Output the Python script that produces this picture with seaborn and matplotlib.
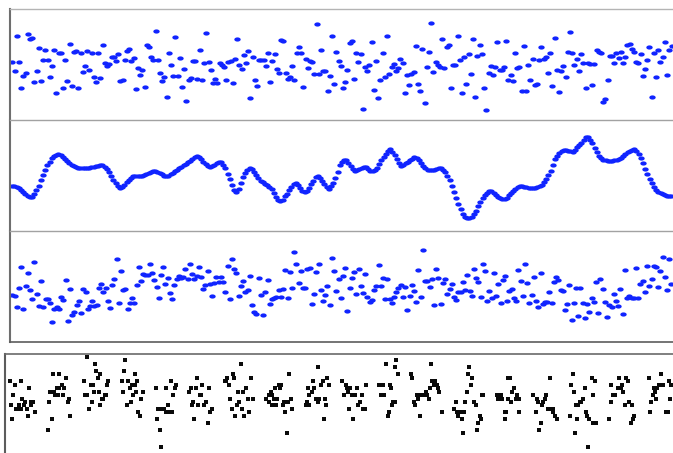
import numpy as np
import pandas as pd
import matplotlib
matplotlib.use("Agg")
import matplotlib.pyplot as plt
import seaborn as sns

# Upper scatter series (one reading per sample index)
upper_values = [
    2, -7, 28, 2, -24, -12, -9, 30, 25, 26,
    -18, -7, 16, -17, 4, 14, 4, -13, -2, 14,
    -29, 11, 11, -24, 4, -17, 20, -22, 12, 13,
    -24, 11, -8, -2, 13, -6, 11, -13, -18, 11,
    -14, 19, 1, -2, 0, 7, 7, 3, 10, -17,
    -16, 4, 13, 15, 3, 6, -25, -4, -11, -6,
    -23, 19, 17, 7, 4, 33, 4, -9, -17, -13,
    -33, 11, -1, -12, 27, -12, 6, -23, -5, -37,
    -16, -14, 3, 3, -15, 14, -16, 1, 31, 2,
    -6, -19, -15, -19, 1, -1, -3, -16, 2, 3,
    -19, 5, 25, -1, -5, 9, 1, 13, -34, 7,
    -16, -22, 4, 4, 4, -2, 11, -18, 3, 10,
    -5, -9, 24, 23, -9, -15, -13, -2, -16, 11,
    17, 11, -23, 5, -4, 3, 2, -10, 40, -10,
    14, -7, -7, -27, -12, 28, -20, 12, 3, -2,
    -24, -18, -6, 21, 23, -15, 11, 2, 10, -45,
    -3, -7, -1, 22, -26, 3, -34, -16, 11, -13,
    28, -10, -3, 0, -7, -4, 5, 1, -29, -11,
    -21, -10, -8, 18, -20, -27, 15, -39, -3, 12,
    41, -8, 2, -1, -3, 25, -4, 17,
    19, -24, -1, -1, 28, 4, -29, 7, -20, 10,
    -10, 25, -33, 8, 19, 10, -24, -46, -9, -2,
    -11, -3, 22, -6, -6, -3, 23, -16, -11, -17,
    11, -4, -3, -27, 18, -27, -1, -16, 5, -21,
    -20, 4, 17, 5, 7, -9, 11, -22, 26, -6,
    -28, -7, -2, -13, 12, 32, 11, -1, 5, -7,
    10, 1, -24, 1, 0, -21, 0, 14, 12, 11,
    -38, -35, -16, 8, 8, 1, 11, 6, 12, 1,
    7, 19, 20, 15, 12, 2, 1, 10, -12, -5,
    4, 17, -33, 11, -13, 14, 2, 7, 22, -11,
    14, 18,
]

# Smooth series
smooth_values = [
    -10.5, -10.5, -11, -12.5, -14.5, -16.5, -18.5, -20, -21, -21,
    -18.5, -14.5, -10, -4.5, 1, 6, 10.5, 14, 17.3, 19.5,
    20.8, 21.2, 20.5, 18.8, 17, 14.8, 12.5, 10.5, 9.3, 8.3,
    7.8, 7.6, 7.6, 7.7, 7.8, 8, 8.3, 8.6, 9.2, 9.8,
    10.3, 10.2, 8.8, 6.8, 3.5, -0.5, -4, -7.5, -10, -12,
    -11.5, -9, -6.2, -4, -2, -0.5, -0.3, -0.5, -0.5, 0,
    0.7, 1.2, 2.3, 3.5, 4.5, 4.2, 3.2, 2.3, 1.2, 0,
    -0.8, 0, 1.5, 3, 4.5, 6, 7.5, 8.8, 10.3, 11.8,
    13.3, 14.8, 16.5, 18.3, 19.6, 19, 16.5, 13.8, 11.5, 9.5,
    8.3, 9.5, 11, 12.5, 13.3, 13.5, 11, 7.5, 2, -3.5,
    -9.5, -14, -16, -13, -7.5, -1, 2.5, 5.5, 7.2, 6.5,
    4, 1, -2.5, -5, -6.5, -8, -9.5, -11, -13, -17.5,
    -21, -24, -25.5, -24, -20.5, -18, -14.5, -11.2, -8.5, -7.2,
    -9.5, -12.3, -15, -16.8, -15, -12, -8.5, -5, -1.8, -0.3,
    -2.5, -5.2, -8.5, -11.5, -13.2, -10.5, -7.5, -2, 4, 10.5,
    13.5, 16, 15.5, 12.5, 9.8, 6.5, 4.8, 5.5, 6.5, 7.5,
    8.5, 8.5, 6.8, 5, 4.8, 5.8, 7.5, 11.5, 15.7, 19,
    22, 25, 26.3, 24, 20.3, 16.5, 12.5, 9.8, 11, 12.5,
    13.8, 15.5, 17, 18.3, 17.8, 15.5, 12.5, 10, 7.8, 5.6,
    5.3, 5.3, 5.5, 6.5, 7.6, 7.5, 5.5, 3.5, 0, -4.5,
    -10, -16, -22.8, -28.5, -33.5, -38.5, -41, -42.5, -42.5, -41,
    -38.5, -35, -30.5, -26, -22.5, -19.3, -17, -15.7, -15.8, -17.5,
    -19.3, -21, -22.5, -23.5, -23.8, -22, -19.5, -17.8, -15.5, -13.5,
    -11.5, -10.5, -10.5, -11, -11.3, -12, -12.5, -12.8, -12, -11,
    -10, -9, -6.5, -3.3, 0.5, 5, 10.5, 16.5, 20, 22.5,
    24.5, 25.3, 25.5, 25, 24.3, 23.8, 25.5, 28.3, 30.5, 33,
    35.5, 38.3, 38.5, 35.5, 32.3, 28, 23.5, 20, 17.3, 16,
    15.5, 15, 14.8, 15, 15.3, 15.8, 16.8, 18, 19.5, 21.5,
    23.5, 25, 26, 26.5, 24.5, 21.5, 17.5, 12.5, 7, 1.5,
    -3.5, -7.5, -11.5, -14, -16, -17.5, -18.5, -19.3, -20, -20.5,
    -20.8,
]

# Lower scatter series
lower_values = [
    -8, -9, -20, -1, 20, -22, 1, 14, -3, -12,
    25, -7, -19, 6, -20, -12, -12, -16, -35, -22,
    -20, -22, -10, -13, 7, -34, -2, -28, -25, -18,
    -14, -26, -2, -5, -22, -19, -14, -19, -18, -1,
    3, -5, -1, -14, -21, 2, 8, 28, -16, 16,
    -3, -2, -22, -16, -11, -16, 2, 20, 6, 13,
    12, 12, 23, 14, 7, 0, -11, 12, 20, 3,
    9, -6, -12, 2, 8, 11, 9, 10, 18, 8,
    23, 13, 8, 11, 20, 10, -2, 2, 16, 3,
    -9, 4, 10, 5, 10, 5, -5, 21, -12, 28,
    18, 14, -9, 1, 6, -5, -3, 11, -18, -25,
    -27, 9, -8, -28, -5, 7, -17, -12, -11, -10,
    -3, -10, -2, 17, -11, 15, -1, 35, 23, 4,
    16, -1, -1, 18, 19, -17, -7, 15, 23, -3,
    -14, -8, 1, -18, 29, 16, -4, 8, -11, 11,
    19, -24, -1, 9, 15, -7, 18, 1, -6, 13,
    -10, -15, -13, -3, 1, 22, 1, 9, -12, 8,
    -12, -16, -10, -5, -1, 2, -10, 0, -23, -9,
    2, -4, -15, 17, -10, 37, 6, 6, 0, 8,
    -18, 18, 9, -17, 4, 8, -7, -2,
    3, -10, -13, -5, -5, 5, -3, 12, -4, -9,
    18, 9, 5, -10, 23, 16, -14, -4, -11, 14,
    -9, 3, -16, 7, 11, -14, -4, -2, -11, -14,
    17, 6, -9, 23, 4, -16, -8, 10, -14, -20,
    14, -17, -15, -15, -5, -16, 5, 10, 7, -3,
    -4, -23, -17, 2, -33, -16, -1, -29, -1, -16,
    -31, -17, -25, -11, -15, 5, -26, 8, -2, -15,
    -30, -18, -20, -7, -14, -19, -2, -27, 17, -11,
    -9, -11, -11, 19, -11, 3, 6, -5, 21, 1,
    8, 21, 20, 0, 16, 30, 10, -3, 28, 3,
]

# Grouped strip observations: position and depth level
strip_t = [
    9.7, 14.7, 21.3, 29.3, 13, 22.3, 24.7, 31, 33, 10.7, 18.7, 23.7, 31, 16, 18, 20.7, 26.7, 34.7, 28, 12,
    52.7, 59.3, 66.3, 61.7, 56.7, 59.3, 64, 50, 54.3, 55, 58.3, 63.3, 69, 49, 67.7, 70, 51.7, 47.7,
    87.3, 95, 96.3, 99.7, 98, 83.7, 108, 90.7, 93, 107, 98.7, 94, 85.3, 87, 105, 106.3, 102, 103, 91.7, 100.3, 88.7,
    125.3, 124.3, 135, 122, 128.3, 137.3, 132, 134.7, 130.3, 123.3, 135.7, 142.7, 133.3, 141.3, 130.7, 126.7, 138.3, 140,
    156, 166, 171, 175.7, 174.7, 173.3, 167.7, 158, 161.3, 164, 166, 168.7, 172, 157, 160, 161.3,
    196.7, 201.7, 191, 195.7, 209, 189.3, 200, 201, 192.7, 205.7, 191.7, 198, 204, 212, 210, 194.3, 207.7,
    240.7, 232.7, 227.3, 233.7, 250.7, 224.7, 226.3, 228.7, 245.7, 238.3, 243.3, 230, 247.7, 252.7, 239.3, 236.7, 231.7, 242, 248.7, 235.3, 244.3,
    289.3, 278.7, 281.3, 275.3, 280.3, 270.7, 268.7, 272.3, 266, 274.3, 277.3, 290.7, 269.3, 284.3, 288.3, 271.7, 276, 282.7, 292.3, 285.3, 286.7,
    318.3, 327.3, 313.3, 322.7, 321, 329, 308, 314.3, 311.7, 309.3, 316.3, 318.7, 325, 307.3, 317.7, 305.7, 309.3, 326.3, 324,
    342.3, 345.7, 366, 346.7, 350, 357.3, 347.7, 344, 351.7, 355, 362.3, 360, 358, 349, 363.3, 365, 353.3,
    396.3, 386, 395, 398, 379.3, 382.7, 390.3, 391.3, 380.7, 384, 392.7, 394.7, 392, 389, 387.7,
    430.7, 411, 412.3, 432.3, 435, 433.7, 437, 429.7, 438.3, 426, 439, 416.7, 420, 423.3, 427.3, 418, 428.7, 413.7, 415.3, 441.7, 420.3,
    469.3, 468.3, 472.3, 470.7, 466.7, 481.7, 483.3, 456, 465.3, 474.3, 475.7, 454.3, 456.7, 459, 460.7, 464, 458.3, 480, 461.7, 481, 478.3, 476.7, 462.7,
    507.7, 510, 514, 511.7, 496.7, 501, 516.7, 498.3, 502, 508.3, 516, 518.7, 510.7, 504.7, 506.3, 519.3, 505,
    550, 533.3, 546, 536.7, 544.7, 538.3, 543.3, 542, 548.3, 550.7, 553.3, 552.7, 535.7, 554.7, 556.7, 541, 539.3,
    572.7, 591.7, 594.7, 571, 584.7, 574.3, 593.3, 583.3, 579.7, 581.3, 576, 578, 585.7, 570, 587.3, 577.3, 589.3, 593.3, 596, 575, 588.3,
    618.7, 626.3, 627.7, 611.3, 621.7, 618.3, 621, 623.3, 613.3, 615, 610.7, 629.3, 625, 631.7, 634, 632.7, 631, 609.3,
    660.7, 649.3, 668.7, 659, 662.7, 670.7, 653.7, 657.3, 655, 652.7, 656, 670, 651, 650, 666, 668.3,
]
strip_depth = [
    7, 8, 7, 9, 11, 12, 13, 13, 13, 14, 14, 14, 14, 15, 15, 15, 15, 16, 17, 18,
    5, 5, 6, 8, 9, 9, 9, 10, 10, 11, 11, 11, 12, 13, 13, 17, 18, 21,
    0, 2, 4, 5, 6, 7, 7, 8, 8, 8, 10, 10, 11, 11, 11, 11, 12, 12, 13, 14, 15,
    1, 4, 5, 7, 7, 7, 8, 8, 9, 10, 10, 10, 11, 12, 13, 14, 16, 17,
    9, 9, 7, 8, 9, 11, 14, 15, 15, 15, 16, 16, 16, 18, 21, 26,
    6, 8, 9, 9, 9, 10, 11, 11, 13, 13, 14, 14, 14, 15, 16, 18, 19,
    2, 5, 6, 6, 6, 7, 7, 8, 9, 10, 10, 12, 12, 12, 13, 14, 15, 15, 16, 17, 17,
    5, 8, 8, 9, 9, 10, 11, 11, 12, 12, 12, 12, 13, 13, 13, 14, 14, 14, 15, 16, 22,
    3, 6, 7, 7, 8, 8, 9, 9, 10, 11, 12, 12, 12, 13, 13, 14, 14, 14, 18,
    7, 8, 8, 9, 9, 9, 10, 11, 11, 11, 11, 13, 14, 15, 15, 15, 18,
    1, 2, 3, 5, 8, 8, 8, 9, 11, 11, 13, 13, 14, 16, 17,
    2, 5, 6, 7, 7, 8, 8, 9, 9, 10, 10, 11, 11, 11, 11, 12, 12, 13, 14, 16, 17,
    3, 5, 6, 8, 10, 11, 11, 13, 13, 13, 14, 15, 16, 16, 16, 16, 17, 17, 18, 18, 19, 21, 22,
    6, 6, 9, 10, 11, 11, 11, 12, 12, 12, 12, 12, 13, 16, 16, 16, 18,
    6, 11, 11, 12, 12, 13, 13, 14, 15, 15, 15, 16, 16, 17, 18, 19, 21,
    5, 6, 7, 8, 9, 10, 11, 12, 13, 13, 14, 14, 16, 17, 17, 18, 18, 19, 19, 22, 26,
    6, 6, 7, 8, 8, 9, 9, 10, 11, 11, 13, 13, 14, 14, 17, 18, 19, 18,
    5, 6, 7, 8, 8, 8, 9, 9, 10, 11, 12, 12, 13, 16, 16, 16,
]

BLUE = "#1024ff"
INK = "#0a0a0a"

sns.set_style("white")
W, H = 673, 453
fig = plt.figure(figsize=(W / 100, H / 100), dpi=100)


def box(left, top, right, bottom):
    return [left / W, 1 - bottom / H, (right - left) / W, (bottom - top) / H]


# slightly flattened round marker
t = np.linspace(0, 2 * np.pi, 48)
oval = np.column_stack([np.cos(t), 0.66 * np.sin(t)])

stack = [
    (upper_values, 8.5, 120, (-56, 55.5), 21),
    (smooth_values, 120, 231, (-55.5, 55.5), 21),
    (lower_values, 231, 342, (-55.5, 55.5), 21),
]
for k, (vals, top, bottom, ylim, size) in enumerate(stack):
    ax = fig.add_axes(box(10, top, 673, bottom))
    df = pd.DataFrame({"i": np.arange(len(vals)), "v": vals})
    sns.scatterplot(data=df, x="i", y="v", ax=ax, color=BLUE, marker=oval,
                    s=size, linewidth=0, legend=False)
    step = 659.2 / (len(vals) - 1)
    ax.set_xlim(-2.3 / step, 660.7 / step)
    ax.set_ylim(*ylim)
    ax.set(xticks=[], yticks=[], xlabel="", ylabel="")
    ax.spines["right"].set_visible(False)
    ax.spines["left"].set_color("#6e6e6e")
    ax.spines["left"].set_linewidth(1.5)
    ax.spines["top"].set_color("#b4b4b4" if k == 0 else "#a2a2a2")
    ax.spines["top"].set_linewidth(1.0)
    if k == 2:
        ax.spines["bottom"].set_color("#5c5c5c")
        ax.spines["bottom"].set_linewidth(1.2)
    else:
        ax.spines["bottom"].set_visible(False)

# grouped strip panel
ax4 = fig.add_axes(box(5, 354, 673, 460))
sdf = pd.DataFrame({"t": strip_t, "depth": strip_depth})
sns.scatterplot(data=sdf, x="t", y="depth", ax=ax4, color=INK, marker="s",
                s=7.5, linewidth=0, legend=False)
ax4.set_xlim(5, 673)
ax4.set_ylim(29.77, -0.87)
ax4.set(xticks=[], yticks=[], xlabel="", ylabel="")
ax4.spines["right"].set_visible(False)
ax4.spines["bottom"].set_visible(False)
ax4.spines["left"].set_color("#5c5c5c")
ax4.spines["left"].set_linewidth(1.5)
ax4.spines["top"].set_color("#6a6a6a")
ax4.spines["top"].set_linewidth(1.2)

fig.savefig("out.png", dpi=100)
